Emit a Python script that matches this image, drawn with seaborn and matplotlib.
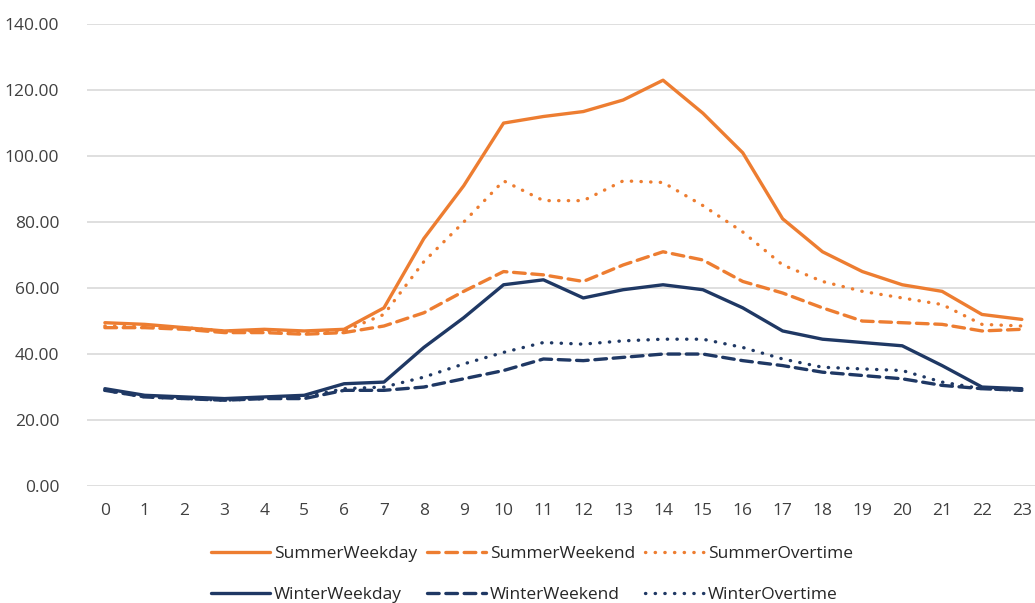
import numpy as np
import pandas as pd
import seaborn as sns
import matplotlib.pyplot as plt

# hourly values
hours = list(range(24))
summer_weekday = [49.5, 49, 48, 47, 47.5, 47, 47.5, 54, 75, 91, 110, 112, 113.5, 117, 123, 113,
                  101, 81, 71, 65, 61, 59, 52, 50.5]
summer_weekend = [48, 48, 47.5, 46.5, 46.5, 46, 46.5, 48.5, 52.5, 59, 65, 64, 62, 67, 71, 68.5,
                  62, 58.5, 54, 50, 49.5, 49, 47, 47.5]
summer_overtime = [48.5, 48.5, 48, 47, 47, 46.5, 47, 52, 68, 80, 92.5, 86.5, 86.5, 92.5, 92, 85,
                   77, 67, 62, 59, 57, 55, 49, 48.5]
winter_weekday = [29.5, 27.5, 27, 26.5, 27, 27.5, 31, 31.5, 42, 51, 61, 62.5, 57, 59.5, 61, 59.5,
                  54, 47, 44.5, 43.5, 42.5, 36.5, 30, 29.5]
winter_weekend = [29, 27, 26.5, 26, 26.5, 26.5, 29, 29, 30, 32.5, 35, 38.5, 38, 39, 40, 40,
                  38, 36.5, 34.5, 33.5, 32.5, 30.5, 29.5, 29]
winter_overtime = [29, 27, 26.5, 26, 26.5, 27, 29.5, 30, 33, 37, 40.5, 43.5, 43, 44, 44.5, 44.5,
                   42, 38.5, 36, 35.5, 35, 31.5, 29.5, 29]

series = {
    "SummerWeekday": summer_weekday,
    "SummerWeekend": summer_weekend,
    "SummerOvertime": summer_overtime,
    "WinterWeekday": winter_weekday,
    "WinterWeekend": winter_weekend,
    "WinterOvertime": winter_overtime,
}

orange = "#ED7D31"
navy = "#1F3864"
styles = {
    "SummerWeekday": (orange, "-"),
    "SummerWeekend": (orange, (0, (3.5, 2))),
    "SummerOvertime": (orange, (0, (0.1, 2.8))),
    "WinterWeekday": (navy, "-"),
    "WinterWeekend": (navy, (0, (3.5, 2))),
    "WinterOvertime": (navy, (0, (0.1, 2.8))),
}

sns.set_theme(style="white")
plt.rcParams["font.family"] = ["Open Sans", "DejaVu Sans"]

fig = plt.figure(figsize=(10.35, 6.03), dpi=100)
ax = fig.add_axes([0.084, 0.194, 0.916, 0.766])

for name, vals in series.items():
    color, ls = styles[name]
    df = pd.DataFrame({"hour": hours, "value": vals})
    sns.lineplot(data=df, x="hour", y="value", ax=ax, color=color, linewidth=2.4, label=name)
    line = ax.lines[-1]
    line.set_linestyle(ls)
    line.set_dash_capstyle("round")
    line.set_solid_capstyle("round")

ax.set_xlim(-0.45, 23.33)
ax.set_ylim(0, 140)
ax.set_xticks(hours)
ax.set_yticks(np.arange(0, 141, 20))
ax.yaxis.set_major_formatter(plt.FormatStrFormatter("%.2f"))
ax.grid(axis="y", color="#D9D9D9", linewidth=1.2)
ax.set_axisbelow(True)
for s in ax.spines.values():
    s.set_visible(False)
ax.tick_params(axis="both", length=0, labelsize=12.5, colors="#404040")
ax.tick_params(axis="y", pad=20)
ax.tick_params(axis="x", pad=12)
ax.set_xlabel("")
ax.set_ylabel("")

# legend filled column-wise, so interleave to get Summer on row 1, Winter on row 2
handles, labels = ax.get_legend_handles_labels()
order = [0, 3, 1, 4, 2, 5]
ax.legend([handles[i] for i in order], [labels[i] for i in order], ncol=3,
          loc="upper center", bbox_to_anchor=(0.514, 0.12),
          bbox_transform=fig.transFigure, frameon=False, fontsize=12.5,
          handlelength=3.4, handletextpad=0.2, columnspacing=0.6, labelspacing=1.4,
          labelcolor="#262626")

fig.savefig("out.png", dpi=100)
